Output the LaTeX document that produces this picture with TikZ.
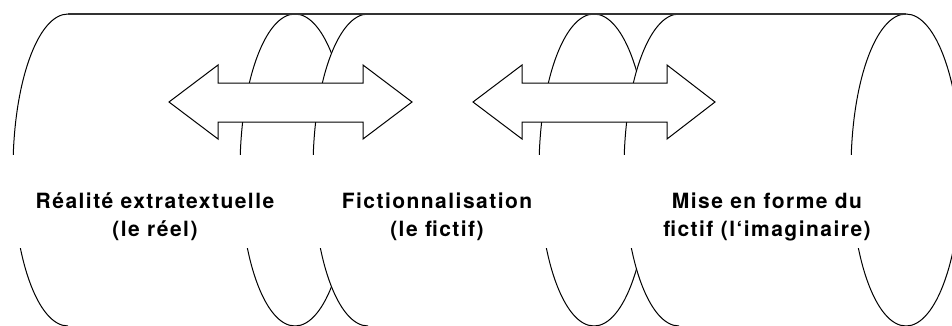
\documentclass[tikz,border=0pt]{standalone}
\usepackage{fontspec}
\newfontfamily\labelfont[LetterSpace=7]{TeX Gyre Heros}
\begin{document}
\begin{tikzpicture}[x=1pt,y=1pt,
  outline/.style={draw=black,line width=1pt},
  bodyfill/.style={fill=white},
  topline/.style={draw=black!80,line width=1.3pt},
  arrowshape/.style={draw=black,fill=white,line width=1pt,line join=miter},
  lbl/.style={font=\labelfont\bfseries\fontsize{21}{29}\selectfont,anchor=base,inner sep=0pt}
]
\useasboundingbox (0,0) rectangle (952,325);
\clip (0,0) rectangle (952,325);
% cylinders: left cap centre, right cap centre
\foreach \L/\R in {68/295, 368/594, 679/906}{
  \fill[bodyfill] (\L,311) arc[start angle=90,end angle=270,x radius=55,y radius=156]
     -- (\R,-1) arc[start angle=-90,end angle=90,x radius=55,y radius=156] -- cycle;
  \draw[outline] (\L,311) arc[start angle=90,end angle=270,x radius=55,y radius=156];
  \draw[outline] (\R,155) ellipse[x radius=55,y radius=156];
}
\draw[topline] (68,311) -- (906,311);
% gap for the labels
\fill[white] (-1,77) rectangle (953,170);
% double arrows
\draw[arrowshape] (169,223) -- (218,260) -- (218,242) -- (363,242) -- (363,260) -- (412,223)
  -- (363,186) -- (363,203) -- (218,203) -- (218,186) -- cycle;
\draw[arrowshape] (473,223) -- (522,260) -- (522,242) -- (667,242) -- (667,260) -- (715,223)
  -- (667,186) -- (667,203) -- (522,203) -- (522,186) -- cycle;
% labels
\node[lbl] (a1) at (155,117) {Réalité extratextuelle};
\node[lbl] (a2) at (155,89) {(le réel)};
\node[lbl] (b1) at (437,117) {Fictionnalisation};
\node[lbl] (b2) at (437,89) {(le fictif)};
\node[lbl] (c1) at (767,117) {Mise en forme du};
\node[lbl] (c2) at (767,89) {fictif (l‘imaginaire)};
\end{tikzpicture}
\end{document}
